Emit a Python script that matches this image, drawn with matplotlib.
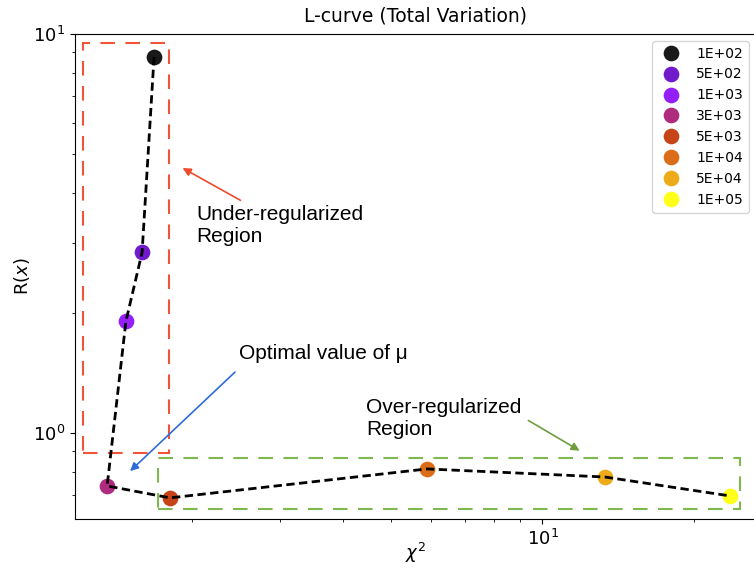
import numpy as np
import matplotlib
matplotlib.use("Agg")
import matplotlib.pyplot as plt
from matplotlib.patches import Rectangle

# ---- data ----
mu_labels = ["1E+02", "5E+02", "1E+03", "3E+03", "5E+03", "1E+04", "5E+04", "1E+05"]
chi2 = [1.683, 1.593, 1.479, 1.357, 1.811, 5.89, 13.32, 23.6]
reg = [8.76, 2.835, 1.905, 0.737, 0.688, 0.813, 0.776, 0.696]

# annotation geometry (data coordinates)
under_box = (1.215, 0.891, 1.799, 9.495)   # x0, y0, x1, y1
over_box = (1.714, 0.646, 24.8, 0.866)
under_text_xy = (2.04, 3.31)
under_arrow = ((2.53, 3.80), (1.897, 4.65))
opt_text_xy = (2.486, 1.585)
opt_arrow = ((2.462, 1.437), (1.494, 0.794))
over_text_xy = (4.45, 1.09)
over_arrow = ((9.27, 1.084), (11.99, 0.896))

W, H = 754, 579
fig = plt.figure(figsize=(W / 100, H / 100), dpi=100)
ax = fig.add_axes([75 / W, 1 - 519 / H, (755.5 - 75) / W, (519 - 34) / H])
ax.set_xscale("log")
ax.set_yscale("log")
ax.set_xlim(1.171, 26.57)
ax.set_ylim(0.609, 10)

cmap = plt.get_cmap("gnuplot")
colors = [cmap(i / (len(chi2) - 1)) for i in range(len(chi2))]

for xv, yv, c, lab in zip(chi2, reg, colors, mu_labels):
    ax.plot([xv], [yv], "o", color=c, ms=11.3, alpha=0.9, mec="none", label=lab, zorder=3)
ax.plot(chi2, reg, color="black", lw=2, ls=(0, (3, 1.6)), zorder=4)

# region boxes
ax.add_patch(Rectangle((under_box[0], under_box[1]), under_box[2] - under_box[0],
                       under_box[3] - under_box[1], fill=False, ec="#F0553A",
                       lw=1.5, ls=(0, (7, 5)), zorder=2))
ax.add_patch(Rectangle((over_box[0], over_box[1]), over_box[2] - over_box[0],
                       over_box[3] - over_box[1], fill=False, ec="#80B850",
                       lw=1.5, ls=(0, (7, 5)), zorder=2))

afont = dict(family=["Liberation Sans", "DejaVu Sans"], size=15)
ax.text(*under_text_xy, "Under-regularized\nRegion", ha="left", va="center", **afont)
ax.text(*opt_text_xy, "Optimal value of μ", ha="left", va="center", **afont)
ax.text(*over_text_xy, "Over-regularized\nRegion", ha="left", va="center", **afont)

ax.annotate("", xy=under_arrow[1], xytext=under_arrow[0],
            arrowprops=dict(arrowstyle="-|>", color="#EE4B2B", lw=1.2, mutation_scale=12))
ax.annotate("", xy=opt_arrow[1], xytext=opt_arrow[0],
            arrowprops=dict(arrowstyle="-|>", color="#2F6BDB", lw=1.2, mutation_scale=12))
ax.annotate("", xy=over_arrow[1], xytext=over_arrow[0],
            arrowprops=dict(arrowstyle="-|>", color="#6E9E3F", lw=1.2, mutation_scale=12))

ax.tick_params(labelsize=13)
ax.set_title("L-curve (Total Variation)", fontsize=13.5, pad=9)
ax.set_xlabel(r"$\chi^2$", fontsize=13, labelpad=-6)
ax.set_ylabel(r"R($x$)", fontsize=13, labelpad=1)

ax.legend(loc="upper right", fontsize=10, numpoints=1)

fig.savefig("out.png", dpi=100)
